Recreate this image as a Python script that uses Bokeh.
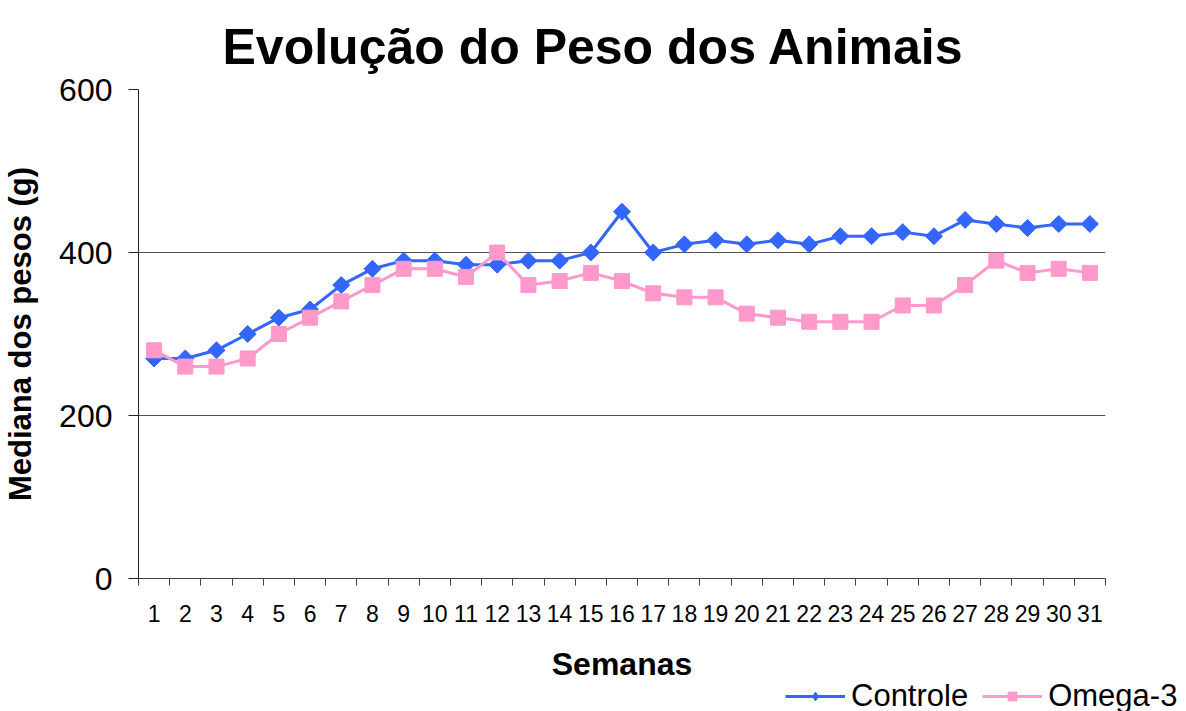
from bokeh.plotting import figure
from bokeh.models import Range1d, FixedTicker, Legend, LegendItem
from bokeh.embed import file_html
from bokeh.resources import INLINE

semanas = list(range(1, 32))
tick_labels = [str(s) for s in semanas]
controle = [270, 270, 280, 300, 320, 330, 360, 380, 390, 390, 385, 385, 390, 390, 400, 450,
            400, 410, 415, 410, 415, 410, 420, 420, 425, 420, 440, 435, 430, 435, 435]
omega3 = [280, 260, 260, 270, 300, 320, 340, 360, 380, 380, 370, 400, 360, 365, 375, 365,
          350, 345, 345, 325, 320, 315, 315, 315, 335, 335, 360, 390, 375, 380, 375]
series_names = ["Controle", "Omega-3"]
y_ticks = [0, 200, 400, 600]

FONT = "Liberation Sans"
BLUE = "#3366FF"
PINK = "#FF99CC"

p = figure(width=1170, height=684, output_backend="svg", toolbar_location=None,
           x_range=Range1d(0.5, 31.5), y_range=Range1d(0, 600),
           min_border_left=130, min_border_right=65, min_border_top=89, min_border_bottom=106)
p.outline_line_color = None
p.background_fill_color = "white"

p.title.text = "Evolução do Peso dos Animais"
p.title.text_font = FONT
p.title.text_font_size = "50px"
p.title.text_font_style = "bold"
p.title.text_color = "black"
p.title.align = "left"
p.title.offset = 84
p.title.standoff = 30

# x axis
p.xaxis.ticker = FixedTicker(ticks=semanas, minor_ticks=[s + 0.5 for s in range(0, 32)])
p.xaxis.major_label_overrides = {s: l for s, l in zip(semanas, tick_labels)}
p.xaxis.major_tick_out = 0
p.xaxis.major_tick_in = 0
p.xaxis.minor_tick_out = 7
p.xaxis.minor_tick_in = 0
p.xaxis.minor_tick_line_color = "#404040"
p.xaxis.axis_line_color = "#404040"
p.xaxis.major_label_text_font = FONT
p.xaxis.major_label_text_font_size = "23px"
p.xaxis.major_label_text_color = "black"
p.xaxis.major_label_standoff = 19
p.xaxis.axis_label = "Semanas"
p.xaxis.axis_label_text_font = FONT
p.xaxis.axis_label_text_font_size = "32px"
p.xaxis.axis_label_text_font_style = "bold"
p.xaxis.axis_label_text_color = "black"
p.xaxis.axis_label_standoff = 21

# y axis
p.yaxis.ticker = FixedTicker(ticks=y_ticks)
p.yaxis.major_tick_out = 10
p.yaxis.major_tick_in = 0
p.yaxis.minor_tick_line_color = None
p.yaxis.axis_line_color = "#202020"
p.yaxis.major_tick_line_color = "#202020"
p.yaxis.major_label_text_font = FONT
p.yaxis.major_label_text_font_size = "32px"
p.yaxis.major_label_text_color = "black"
p.yaxis.major_label_standoff = 16
p.yaxis.axis_label = "Mediana dos pesos (g)"
p.yaxis.axis_label_text_font = FONT
p.yaxis.axis_label_text_font_size = "31px"
p.yaxis.axis_label_text_font_style = "bold"
p.yaxis.axis_label_text_color = "black"
p.yaxis.axis_label_standoff = 18

p.xgrid.grid_line_color = None
p.ygrid.ticker = FixedTicker(ticks=y_ticks)
p.ygrid.grid_line_color = "#505050"
p.ygrid.grid_line_width = 1.2

p.line(semanas, controle, line_color=BLUE, line_width=3)
p.scatter(semanas, controle, marker="square", angle=0.785398, size=12,
          fill_color=BLUE, line_color=BLUE)
p.line(semanas, omega3, line_color=PINK, line_width=3)
p.scatter(semanas, omega3, marker="square", size=15, fill_color=PINK, line_color=PINK)

# legend strip below the chart (series drawn off-range, only the key is visible)
lf = figure(width=1178, height=27, output_backend="svg", toolbar_location=None,
            x_range=Range1d(0, 0.1), y_range=Range1d(0, 1), x_axis_type=None, y_axis_type=None,
            min_border=0)
lf.outline_line_color = None
lf.xgrid.grid_line_color = None
lf.ygrid.grid_line_color = None
k1 = lf.line(semanas, controle, line_color=BLUE, line_width=3)
m1 = lf.scatter(semanas, controle, marker="diamond", size=18,
                fill_color=BLUE, line_color=BLUE)
k2 = lf.line(semanas, omega3, line_color=PINK, line_width=3)
m2 = lf.scatter(semanas, omega3, marker="square", size=15, fill_color=PINK, line_color=PINK)
legend = Legend(items=[LegendItem(label=series_names[0], renderers=[k1, m1]),
                       LegendItem(label=series_names[1], renderers=[k2, m2])],
                location=(785, -3), orientation="horizontal",
                border_line_color=None, background_fill_alpha=0,
                label_text_font=FONT, label_text_font_size="31px", label_text_color="black",
                label_height=28, glyph_width=60, glyph_height=22, label_standoff=6, spacing=14,
                padding=0, margin=0)
lf.add_layout(legend, "center")

open("out.html", "w").write(file_html([p, lf], INLINE))
